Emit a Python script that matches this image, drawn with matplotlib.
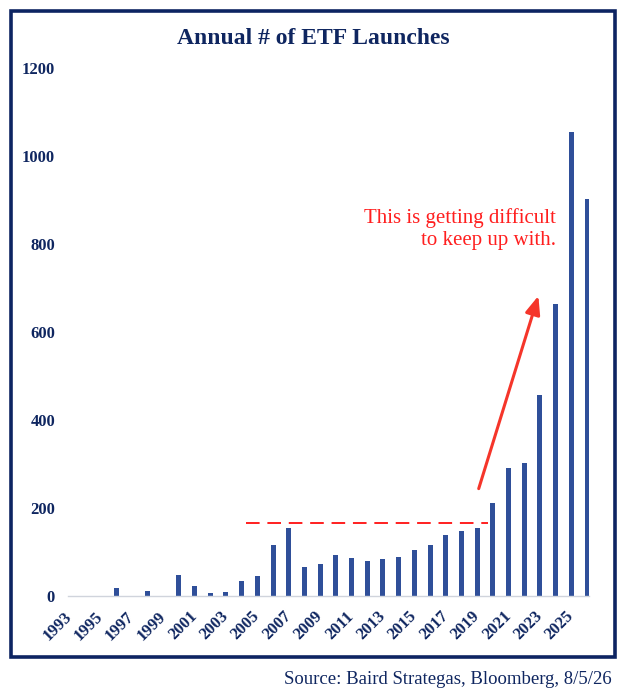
import numpy as np
import matplotlib.pyplot as plt
from matplotlib.patches import Rectangle

# Annual ETF launches
years = np.arange(1993, 2027)
launches = [0, 0, 0, 19, 0, 11, 0, 47, 23, 7, 10, 33, 45, 115, 154,
            67, 73, 93, 86, 79, 83, 89, 105, 115, 139, 147, 154,
            211, 290, 302, 456, 663, 1054, 902]
tick_years = list(range(1993, 2026, 2))

plateau_level = 167
plateau_span = (2004.3, 2019.7)
arrow_from = (2019.1, 244)
arrow_to = (2022.9, 682)

navy = '#0f2660'
bar_color = '#2f4f99'
red = '#ff1f1f'
serif = ['Liberation Serif', 'DejaVu Serif']

fig = plt.figure(figsize=(6.22, 6.88), dpi=100)

# outer frame
fig.patches.append(Rectangle((11/622, 1 - 657/688), 604/622, 646/688,
                             transform=fig.transFigure, fill=False,
                             edgecolor='#0d2462', linewidth=2.6))

ax = fig.add_axes([68.2/622, 1 - 596/688, (588.6 - 68.2)/622, 528/688])
ax.bar(years, launches, width=0.32, color=bar_color)
ax.set_xlim(1992.95, 2026.1)
ax.set_ylim(0, 1200)

for s in ['top', 'right', 'left']:
    ax.spines[s].set_visible(False)
ax.spines['bottom'].set_color('#d0d4dc')
ax.spines['bottom'].set_linewidth(1)

ax.set_yticks(range(0, 1201, 200))
ax.set_yticklabels([str(v) for v in range(0, 1201, 200)],
                   fontfamily=serif, fontweight='bold', fontsize=12, color=navy)
ax.tick_params(axis='y', length=0, pad=9.5)

ax.set_xticks(tick_years)
ax.set_xticklabels([str(y) for y in tick_years], rotation=45, ha='right',
                   va='center', rotation_mode='anchor',
                   fontfamily=serif, fontweight='bold', fontsize=12, color=navy)
ax.tick_params(axis='x', length=0, pad=13)

# plateau line and arrow
ax.hlines(plateau_level, *plateau_span, colors=red, linestyles=(0, (7, 4)),
          linewidth=1.4)
ax.annotate('', xy=arrow_to, xytext=arrow_from,
            arrowprops=dict(arrowstyle='-|>,head_length=1.1,head_width=0.45',
                            color='#f5352a', lw=2.2, shrinkA=0, shrinkB=0))
ax.text(2024.0, 882, 'This is getting difficult\nto keep up with.',
        ha='right', va='top', color=red, fontfamily=serif, fontsize=15,
        linespacing=1.25)

fig.text(313/622, 1 - 38/688, 'Annual # of ETF Launches', ha='center',
         va='center', color=navy, fontfamily=serif, fontweight='bold',
         fontsize=17)
fig.text(612/622, 1 - 679/688, 'Source: Baird Strategas, Bloomberg, 8/5/26',
         ha='right', va='center', color=navy, fontfamily=serif, fontsize=13.5)

fig.savefig('out.png', dpi=100)
